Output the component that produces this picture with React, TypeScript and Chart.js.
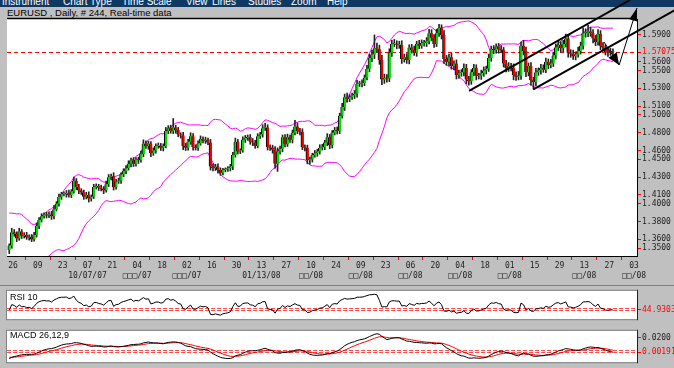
import React, { useEffect, useRef } from 'react';
import { Chart, registerables } from 'chart.js';
Chart.register(...registerables);

// ---------- data ----------
const menuItems = ['Instrument', 'Chart Type', 'Time Scale', 'View', 'Lines', 'Studies', 'Zoom', 'Help'];
const menuX = [2, 63, 122, 186, 212, 248, 291, 327];
const titleText = 'EURUSD , Daily, # 244, Real-time data';

const tickDays = ['26','09','23','07','21','04','18','02','16','30','13','27','10','24','09','23','06','20','04','18','01','15','29','13','27','03'];
const monthLabels = ['', '', '', '10/07/07', '', '\u25A1\u25A1\u25A1/07', '', '\u25A1\u25A1\u25A1/07', '', '', '01/13/08', '', '\u25A1\u25A1/08', '', '\u25A1\u25A1/08', '', '\u25A1\u25A1/08', '', '\u25A1\u25A1/08', '', '\u25A1\u25A1/08', '', '', '\u25A1\u25A1/08', '', '\u25A1\u25A1/08'];

// closes used only to warm up the indicators (bars before the first visible bar)
const warmupCloses = [1.3710,1.3670,1.3700,1.3690,1.3680,1.3720,1.3830,1.3800,1.3790,1.3800,1.3680,1.3720,1.3680,1.3550,1.3440,1.3420,1.3460,1.3460,1.3480,1.3500];

const firstOpen = 1.3480;
const closes = [
1.3530,1.3680,1.3660,1.3610,1.3690,1.3640,1.3650,1.3620,1.3630,1.3600,
1.3650,1.3750,1.3820,1.3860,1.3880,1.3870,1.3880,1.3860,1.3940,1.4000,
1.4080,1.4110,1.4110,1.4120,1.4100,1.4140,1.4260,1.4190,1.4150,1.4130,
1.4080,1.4100,1.4060,1.4080,1.4190,1.4200,1.4180,1.4170,1.4150,1.4220,
1.4300,1.4310,1.4190,1.4250,1.4260,1.4330,1.4370,1.4400,1.4450,1.4490,
1.4450,1.4500,1.4490,1.4560,1.4680,1.4650,1.4680,1.4570,1.4600,1.4650,
1.4650,1.4630,1.4650,1.4820,1.4850,1.4820,1.4860,1.4830,1.4780,1.4770,
1.4650,1.4630,1.4700,1.4760,1.4640,1.4630,1.4680,1.4730,1.4710,1.4720,
1.4690,1.4420,1.4400,1.4420,1.4380,1.4350,1.4380,1.4390,1.4400,1.4420,
1.4550,1.4700,1.4590,1.4600,1.4720,1.4740,1.4750,1.4700,1.4690,1.4650,
1.4760,1.4780,1.4850,1.4860,1.4640,1.4630,1.4610,1.4450,1.4590,1.4620,
1.4750,1.4670,1.4750,1.4720,1.4800,1.4870,1.4820,1.4810,1.4640,1.4630,
1.4490,1.4500,1.4550,1.4570,1.4590,1.4630,1.4640,1.4690,1.4750,1.4660,
1.4800,1.4830,1.4820,1.4990,1.5090,1.5200,1.5180,1.5200,1.5220,1.5240,
1.5350,1.5350,1.5360,1.5420,1.5520,1.5640,1.5680,1.5750,1.5740,1.5620,
1.5400,1.5420,1.5410,1.5700,1.5800,1.5800,1.5790,1.5790,1.5630,1.5650,
1.5620,1.5760,1.5730,1.5700,1.5800,1.5780,1.5810,1.5810,1.5830,1.5920,
1.5870,1.5800,1.5920,1.5980,1.5900,1.5630,1.5600,1.5650,1.5550,1.5580,
1.5450,1.5470,1.5480,1.5530,1.5400,1.5380,1.5480,1.5530,1.5440,1.5440,
1.5470,1.5500,1.5520,1.5640,1.5740,1.5730,1.5770,1.5740,1.5730,1.5580,
1.5530,1.5550,1.5530,1.5450,1.5430,1.5440,1.5780,1.5720,1.5480,1.5550,
1.5390,1.5370,1.5480,1.5500,1.5530,1.5510,1.5600,1.5560,1.5580,1.5670,
1.5760,1.5790,1.5750,1.5800,1.5860,1.5700,1.5690,1.5660,1.5680,1.5720,
1.5780,1.5920,1.5920,1.5940,1.5920,1.5860,1.5820,1.5910,1.5780,1.5760,
1.5710,1.5700,1.5720,1.5707];

// upper / lower shadow length beyond the body, in pips
const wickUp = [
20,45,30,25,35,20,25,30,20,25, 30,35,25,30,20,25,30,35,40,25,
30,20,25,30,35,20,40,25,30,20, 25,30,35,20,30,25,20,30,25,35,
30,25,40,25,30,20,25,30,35,25, 30,20,25,35,40,30,25,20,30,25,
35,30,25,40,30,35,100,25,30,20, 35,30,25,40,30,25,30,35,25,30,
20,35,30,25,30,25,20,15,20,25, 30,40,25,20,35,30,25,30,35,25,
30,25,40,45,30,25,30,35,40,30, 25,30,35,25,30,70,40,30,35,25,
30,25,20,30,25,35,30,25,40,30, 25,30,35,30,40,35,45,30,25,35,
40,30,35,30,40,45,50,150,60,45, 50,40,35,45,40,50,35,40,45,35,
40,30,35,45,30,40,35,30,40,45, 40,35,45,40,35,50,40,35,45,30,
40,35,30,45,40,35,30,40,35,30, 35,40,30,45,35,40,30,35,40,30,
35,40,30,45,35,50,40,60,45,35, 40,35,45,30,40,35,40,30,45,35,
40,45,35,40,50,45,35,40,30,45, 40,60,50,70,45,40,35,50,40,35,
30,35,30,25];
const wickDown = [
40,30,25,35,20,30,25,20,30,25, 20,25,30,25,20,30,25,35,30,20,
25,30,20,35,25,30,20,30,35,25, 30,25,40,30,20,25,30,25,35,20,
25,30,35,25,20,30,25,30,20,35, 30,25,35,20,30,25,35,40,25,30,
25,30,35,20,30,25,30,35,25,30, 40,30,25,30,35,25,30,20,25,30,
25,40,30,25,35,30,25,20,25,30, 35,25,30,25,20,30,25,30,35,25,
20,25,30,25,35,30,40,50,85,30, 35,30,25,30,35,25,30,35,30,35,
40,45,30,25,35,30,25,30,35,40, 30,25,35,30,25,40,35,30,25,35,
40,30,35,30,25,35,40,45,40,50, 60,45,40,35,40,30,45,40,50,35,
40,45,35,30,40,35,30,35,40,30, 35,40,30,35,45,50,40,45,35,40,
45,40,35,40,50,45,35,40,45,35, 40,35,40,30,35,40,35,45,30,40,
45,40,35,55,40,35,40,45,50,40, 55,80,40,35,40,30,35,40,30,35,
40,35,45,40,35,50,40,35,40,30, 35,40,45,40,35,50,40,35,45,40,
35,40,30,25];

const priceTicks = [1.59, 1.5707, 1.56, 1.55, 1.53, 1.51, 1.50, 1.48, 1.46, 1.45, 1.43, 1.41, 1.40, 1.38, 1.36, 1.35];
const lastPrice = 1.5707;
const lastPriceLabel = '1.57075';
const rsiLevels = [44.9303, 50];
const rsiLabel = '44.9303';
const macdTicks = [0.02, 0.00191];
const macdLevels = [0.00191, 0.0050];

// trend lines [bar, price, bar, price]
const channelLines = [[185.1, 1.5270, 249.9, 1.6294], [210.96, 1.5289, 270.0, 1.6211]];
// arrow path (bar, price)
const arrowPath = [[239.4, 1.5821], [245.5, 1.5562], [252.7, 1.6204]];

// ---------- derived ----------
const opens = closes.map((c, i) => (i === 0 ? firstOpen : closes[i - 1]));
const highs = closes.map((c, i) => Math.max(opens[i], c) + wickUp[i] / 10000);
const lows = closes.map((c, i) => Math.min(opens[i], c) - wickDown[i] / 10000);

const allCloses = [...warmupCloses, ...closes];
const W = warmupCloses.length;
function ema(src: number[], n: number) {
  const k = 2 / (n + 1);
  const out: number[] = [];
  src.forEach((v, i) => out.push(i === 0 ? v : v * k + out[i - 1] * (1 - k)));
  return out;
}
const e12 = ema(allCloses, 12);
const e26 = ema(allCloses, 26);
const macdAll = e12.map((v, i) => v - e26[i]);
const sigAll = ema(macdAll, 9);
const macdVals = macdAll.slice(W);
const sigVals = sigAll.slice(W);

function rsiCalc(src: number[], n: number) {
  const out: (number | null)[] = src.map(() => null);
  let g = 0, l = 0;
  for (let i = 1; i <= n; i++) { const d = src[i] - src[i - 1]; g += Math.max(d, 0); l += Math.max(-d, 0); }
  g /= n; l /= n;
  out[n] = 100 - 100 / (1 + g / l);
  for (let i = n + 1; i < src.length; i++) {
    const d = src[i] - src[i - 1];
    g = (g * (n - 1) + Math.max(d, 0)) / n;
    l = (l * (n - 1) + Math.max(-d, 0)) / n;
    out[i] = 100 - 100 / (1 + g / l);
  }
  return out;
}
const rsiVals = rsiCalc(allCloses, 10).slice(W) as number[];

const bbUpper: number[] = [];
const bbLower: number[] = [];
for (let j = W; j < allCloses.length; j++) {
  const w = allCloses.slice(j - 19, j + 1);
  const m = w.reduce((a, b) => a + b, 0) / w.length;
  const sd = Math.sqrt(w.reduce((a, b) => a + (b - m) * (b - m), 0) / w.length);
  bbUpper.push(m + 2 * sd);
  bbLower.push(m - 2 * sd);
}

const X_MIN = -0.9155;
const X_MAX = 252.69;
const MONO = "'DejaVu Sans Mono', monospace";
const RED = '#ff0000';

const plotBg = {
  id: 'plotBg',
  beforeDraw(chart: any) {
    const { ctx, chartArea: a } = chart;
    ctx.save();
    ctx.fillStyle = '#ffffff';
    ctx.fillRect(a.left, a.top, a.right - a.left, a.bottom - a.top);
    ctx.restore();
  },
};

const mainOverlay = {
  id: 'mainOverlay',
  beforeDatasetsDraw(chart: any) {
    const { ctx, chartArea: a, scales } = chart;
    const y = scales.y.getPixelForValue(lastPrice);
    ctx.save();
    ctx.strokeStyle = RED;
    ctx.lineWidth = 1;
    ctx.setLineDash([4, 3]);
    ctx.beginPath();
    ctx.moveTo(a.left, Math.round(y) + 0.5);
    ctx.lineTo(a.right, Math.round(y) + 0.5);
    ctx.stroke();
    ctx.restore();
  },
  afterDraw(chart: any) {
    const { ctx, chartArea: a, scales } = chart;
    const px = (i: number) => scales.x.getPixelForValue(i);
    const py = (v: number) => scales.y.getPixelForValue(v);
    ctx.save();
    ctx.strokeStyle = '#000';
    ctx.lineWidth = 1.5;
    ctx.beginPath();
    ctx.moveTo(a.left, a.top - 0.5);
    ctx.lineTo(a.right, a.top - 0.5);
    ctx.stroke();
    ctx.lineWidth = 2;
    channelLines.forEach(([i0, v0, i1, v1]) => {
      ctx.beginPath();
      ctx.moveTo(px(i0), py(v0));
      ctx.lineTo(px(i1), py(v1));
      ctx.stroke();
    });
    ctx.lineWidth = 1;
    const pts = arrowPath.map(([i, v]) => [px(i), py(v)]);
    ctx.beginPath();
    ctx.moveTo(pts[0][0], pts[0][1]);
    pts.slice(1).forEach((p) => ctx.lineTo(p[0], p[1]));
    ctx.stroke();
    const head = (from: number[], to: number[], len: number, half: number) => {
      const dx = to[0] - from[0], dy = to[1] - from[1];
      const d = Math.hypot(dx, dy);
      const ux = dx / d, uy = dy / d;
      const bx = to[0] - ux * len, by = to[1] - uy * len;
      ctx.beginPath();
      ctx.moveTo(to[0], to[1]);
      ctx.lineTo(bx - uy * half, by + ux * half);
      ctx.lineTo(bx + uy * half, by - ux * half);
      ctx.closePath();
      ctx.fillStyle = '#000';
      ctx.fill();
    };
    head(pts[0], pts[1], 12, 5);
    head(pts[1], pts[2], 13, 4);
    ctx.restore();
  },
};

function makePanelPlugin(levels: number[]) {
  return {
    id: 'panel',
    beforeDraw(chart: any) {
      const { ctx, chartArea: a } = chart;
      ctx.save();
      ctx.fillStyle = '#ffffff';
      ctx.fillRect(a.left, a.top, a.right - a.left, a.bottom - a.top);
      ctx.restore();
    },
    beforeDatasetsDraw(chart: any) {
      const { ctx, chartArea: a, scales } = chart;
      ctx.save();
      ctx.strokeStyle = '#ff4d4d';
      ctx.lineWidth = 1;
      ctx.setLineDash([4, 2]);
      levels.forEach((v) => {
        const y = Math.round(scales.y.getPixelForValue(v)) + 0.5;
        ctx.beginPath();
        ctx.moveTo(a.left, y);
        ctx.lineTo(a.right, y);
        ctx.stroke();
      });
      ctx.restore();
    },
    afterDraw(chart: any) {
      const { ctx, chartArea: a } = chart;
      ctx.save();
      ctx.lineWidth = 1;
      ctx.strokeStyle = '#808080';
      ctx.strokeRect(a.left - 0.5, a.top - 0.5, a.right - a.left + 1, a.bottom - a.top + 1);
      ctx.strokeStyle = '#202020';
      ctx.beginPath();
      ctx.moveTo(a.right + 0.5, a.top - 1);
      ctx.lineTo(a.right + 0.5, a.bottom + 1);
      ctx.stroke();
      ctx.restore();
    },
  };
}

export default function App() {
  const mainRef = useRef<HTMLCanvasElement>(null);
  const rsiRef = useRef<HTMLCanvasElement>(null);
  const macdRef = useRef<HTMLCanvasElement>(null);

  useEffect(() => {
    const bodyColors = closes.map((c, i) => (c >= opens[i] ? '#00dd00' : '#ee0000'));
    const main = new Chart(mainRef.current as HTMLCanvasElement, {
      type: 'bar',
      data: {
        datasets: [
          { type: 'line', label: 'BB upper', data: bbUpper.map((v, i) => ({ x: i, y: v })), borderColor: '#ff00ff', borderWidth: 1, pointRadius: 0, order: 3 } as any,
          { type: 'line', label: 'BB lower', data: bbLower.map((v, i) => ({ x: i, y: v })), borderColor: '#ff00ff', borderWidth: 1, pointRadius: 0, order: 3 } as any,
          { type: 'bar', label: 'range', data: closes.map((c, i) => ({ x: i, y: [lows[i], highs[i]] })), backgroundColor: '#222222', barThickness: 1, grouped: false, order: 2 } as any,
          { type: 'bar', label: 'body', data: closes.map((c, i) => ({ x: i, y: [opens[i], c] })), backgroundColor: bodyColors, borderColor: '#000000', borderWidth: { left: 1, right: 0, top: 0, bottom: 0 }, borderSkipped: false, barThickness: 3, minBarLength: 1, grouped: false, order: 1 } as any,
        ],
      },
      options: {
        responsive: false,
        animation: false,
        devicePixelRatio: 1,
        layout: { padding: { left: 7, top: 19, right: 0, bottom: 0 } },
        plugins: { legend: { display: false }, tooltip: { enabled: false } },
        scales: {
          x: {
            type: 'linear', min: X_MIN, max: X_MAX, offset: false, bounds: 'data',
            afterBuildTicks: (s: any) => { s.ticks = tickDays.map((_, k) => ({ value: 1.5 + 10 * k })); },
            afterFit: (s: any) => { s.height = 34; },
            grid: { drawOnChartArea: false, drawTicks: true, tickLength: 4, color: RED },
            border: { display: true, color: '#000000' },
            ticks: {
              autoSkip: false, maxRotation: 0, minRotation: 0, padding: 1, color: '#222222',
              font: { family: MONO, size: 8, lineHeight: 1.25 },
              callback: (v: any, idx: number) => (monthLabels[idx] ? [tickDays[idx], monthLabels[idx]] : tickDays[idx]),
            },
          },
          y: {
            type: 'linear', position: 'right', min: 1.3413, max: 1.608, bounds: 'data',
            afterBuildTicks: (s: any) => { s.ticks = priceTicks.map((v) => ({ value: v })); },
            afterFit: (s: any) => { s.width = 37; },
            grid: { drawOnChartArea: false, drawTicks: true, tickLength: 4, color: RED },
            border: { display: true, color: '#000000' },
            ticks: {
              autoSkip: false, padding: 1,
              font: { family: MONO, size: 8 },
              color: (c: any) => (c.tick && c.tick.value === lastPrice ? RED : '#222222'),
              callback: (v: any) => (v === lastPrice ? lastPriceLabel : Number(v).toFixed(4)),
            },
          },
        },
      } as any,
      plugins: [plotBg, mainOverlay],
    });

    const rsi = new Chart(rsiRef.current as HTMLCanvasElement, {
      type: 'line',
      data: { datasets: [{ data: rsiVals.map((v, i) => ({ x: i, y: v })), borderColor: '#000000', borderWidth: 1, pointRadius: 0 }] },
      options: {
        responsive: false, animation: false, devicePixelRatio: 1,
        layout: { padding: { left: 7, top: 3, right: 0, bottom: 2 } },
        plugins: { legend: { display: false }, tooltip: { enabled: false } },
        scales: {
          x: { type: 'linear', min: X_MIN, max: X_MAX, display: false },
          y: {
            position: 'right', bounds: 'data', min: 15.1, max: 102.6,
            afterBuildTicks: (s: any) => { s.ticks = [{ value: rsiLevels[0] }]; },
            afterFit: (s: any) => { s.width = 37; },
            grid: { drawOnChartArea: false, drawTicks: true, tickLength: 4, color: RED },
            border: { display: false },
            ticks: { autoSkip: false, padding: 1, color: RED, font: { family: MONO, size: 8 }, callback: () => rsiLabel },
          },
        },
      } as any,
      plugins: [makePanelPlugin(rsiLevels)],
    });

    const macd = new Chart(macdRef.current as HTMLCanvasElement, {
      type: 'line',
      data: {
        datasets: [
          { data: macdVals.map((v, i) => ({ x: i, y: v })), borderColor: '#000000', borderWidth: 1, pointRadius: 0 },
          { data: sigVals.map((v, i) => ({ x: i, y: v })), borderColor: '#ff0000', borderWidth: 1, pointRadius: 0 },
        ],
      },
      options: {
        responsive: false, animation: false, devicePixelRatio: 1,
        layout: { padding: { left: 7, top: 3, right: 0, bottom: 3 } },
        plugins: { legend: { display: false }, tooltip: { enabled: false } },
        scales: {
          x: { type: 'linear', min: X_MIN, max: X_MAX, display: false },
          y: {
            position: 'right', bounds: 'data', min: -0.01086, max: 0.02851,
            afterBuildTicks: (s: any) => { s.ticks = macdTicks.map((v) => ({ value: v })); },
            afterFit: (s: any) => { s.width = 37; },
            grid: { drawOnChartArea: false, drawTicks: true, tickLength: 4, color: RED },
            border: { display: false },
            ticks: {
              autoSkip: false, padding: 1, font: { family: MONO, size: 8 },
              color: (c: any) => (c.tick && c.tick.value === macdTicks[1] ? RED : '#222222'),
              callback: (v: any) => (v === macdTicks[1] ? '0.00191' : Number(v).toFixed(4)),
            },
          },
        },
      } as any,
      plugins: [makePanelPlugin(macdLevels)],
    });

    return () => { main.destroy(); rsi.destroy(); macd.destroy(); };
  }, []);

  const sans = "'Liberation Sans', Arial, sans-serif";
  return (
    <div style={{ position: 'fixed', left: 0, top: 0, width: 674, height: 368, background: '#c0c0c0', overflow: 'hidden', fontFamily: sans }}>
      <div style={{ position: 'absolute', left: 0, top: 0, width: 674, height: 7, background: '#0f3963', overflow: 'hidden' }}>
        {menuItems.map((m, i) => (
          <span key={m} style={{ position: 'absolute', left: menuX[i], top: -3, fontSize: 10, lineHeight: '10px', color: '#ffffff', whiteSpace: 'nowrap' }}>{m}</span>
        ))}
      </div>
      <div style={{ position: 'absolute', left: 7, top: 8, fontSize: 9.5, lineHeight: '10px', color: '#000', whiteSpace: 'nowrap' }}>{titleText}</div>
      <div style={{ position: 'absolute', left: 0, top: 285, width: 674, height: 1, background: '#808080' }} />
      <canvas ref={mainRef} width={674} height={290} style={{ position: 'absolute', left: 0, top: 0, width: 674, height: 290 }} />
      <canvas ref={rsiRef} width={674} height={40} style={{ position: 'absolute', left: 0, top: 285, width: 674, height: 40 }} />
      <canvas ref={macdRef} width={674} height={43} style={{ position: 'absolute', left: 0, top: 325, width: 674, height: 43 }} />
      <div style={{ position: 'absolute', left: 10, top: 292, fontSize: 9, lineHeight: '10px', color: '#000' }}>RSI 10</div>
      <div style={{ position: 'absolute', left: 10, top: 330, fontSize: 9, lineHeight: '10px', color: '#000' }}>MACD 26,12,9</div>
    </div>
  );
}
